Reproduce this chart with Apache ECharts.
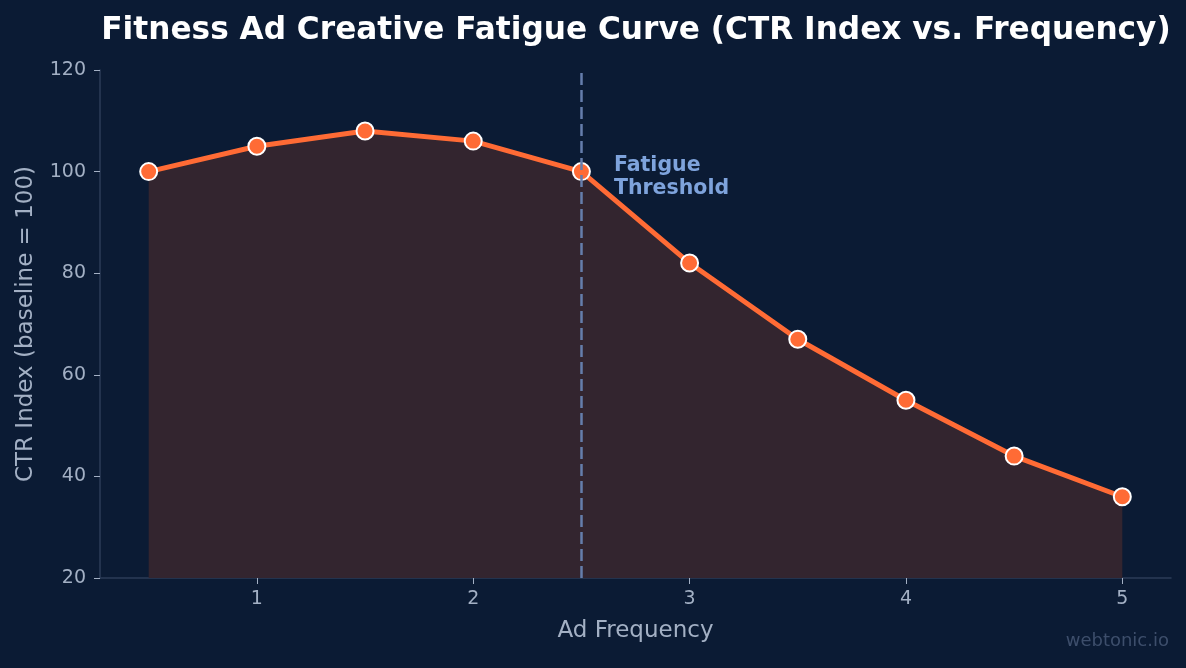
<!DOCTYPE html>
<html>
<head>
<meta charset="utf-8">
<script src="https://cdn.jsdelivr.net/npm/echarts@6/dist/echarts.min.js"></script>
<style>
  html, body { margin: 0; padding: 0; background: #0b1b34; }
  #chart { width: 1186px; height: 668px; }
</style>
</head>
<body>
<div id="chart"></div>
<script>
// ad frequency vs CTR index
const frequency = [0.5, 1, 1.5, 2, 2.5, 3, 3.5, 4, 4.5, 5]
const ctrIndex = [100, 105, 108, 106, 100, 82, 67, 55, 44, 36]
const xTicks = [1, 2, 3, 4, 5]
const thresholdX = 2.5

const labelColor = "#a3b0c4"
const axisColor = "#2c3c57"
const font = "DejaVu Sans"

let myChart = echarts.init(document.getElementById("chart"))
let option = {
    backgroundColor: "#0b1b34",
    title: {
        text: "Fitness Ad Creative Fatigue Curve (CTR Index vs. Frequency)",
        left: 631,
        top: 10,
        textAlign: "center",
        textStyle: {
            color: "#ffffff",
            fontSize: 31.2,
            fontWeight: "bold",
            fontFamily: font
        }
    },
    grid: {
        left: 100,
        right: 15,
        top: 70,
        bottom: 90
    },
    xAxis: {
        type: "value",
        min: 0.275,
        max: 5.225,
        name: "Ad Frequency",
        nameLocation: "middle",
        nameGap: 42,
        nameTextStyle: { color: labelColor, fontSize: 23, fontFamily: font },
        axisLine: { show: true, lineStyle: { color: axisColor, width: 1.5 } },
        axisTick: { show: true, customValues: xTicks, length: 6, lineStyle: { color: labelColor } },
        axisLabel: { customValues: xTicks, color: labelColor, fontSize: 19, margin: 12, fontFamily: font },
        splitLine: { show: false }
    },
    yAxis: {
        type: "value",
        min: 20,
        max: 120,
        interval: 20,
        name: "CTR Index (baseline = 100)",
        nameLocation: "middle",
        nameGap: 62,
        nameTextStyle: { color: labelColor, fontSize: 23, fontFamily: font },
        axisLine: { show: true, lineStyle: { color: axisColor, width: 1.5 } },
        axisTick: { show: true, length: 6, lineStyle: { color: labelColor } },
        axisLabel: { color: labelColor, fontSize: 19, margin: 14, fontFamily: font },
        splitLine: { show: false }
    },
    series: [
        {
            type: "line",
            data: frequency.map((f, i) => [f, ctrIndex[i]]),
            symbol: "circle",
            symbolSize: 17,
            lineStyle: { color: "#ff6b35", width: 5 },
            itemStyle: { color: "#ff6b35", borderColor: "#ffffff", borderWidth: 2 },
            areaStyle: { color: "#33252f", opacity: 1, origin: "start" },
            z: 3,
            markLine: {
                silent: true,
                symbol: "none",
                label: { show: false },
                lineStyle: { color: "#657eac", type: [12, 5], width: 2.5 },
                data: [{ xAxis: thresholdX }],
                z: 10
            },
            markPoint: {
                silent: true,
                symbol: "rect",
                symbolSize: 1,
                itemStyle: { color: "rgba(0,0,0,0)" },
                data: [{ coord: [2.648, 98.9] }],
                label: {
                    show: true,
                    formatter: "Fatigue\nThreshold",
                    position: "right",
                    distance: 0,
                    color: "#7ea3dc",
                    fontSize: 20.5,
                    fontWeight: "bold",
                    lineHeight: 23,
                    align: "left",
                    fontFamily: font
                }
            }
        }
    ],
    graphic: [
        {
            type: "text",
            right: 17,
            top: 632,
            style: {
                text: "webtonic.io",
                fill: "#3d4e6b",
                fontSize: 18,
                fontFamily: font
            }
        }
    ]
}
myChart.setOption(option)
</script>
</body>
</html>
